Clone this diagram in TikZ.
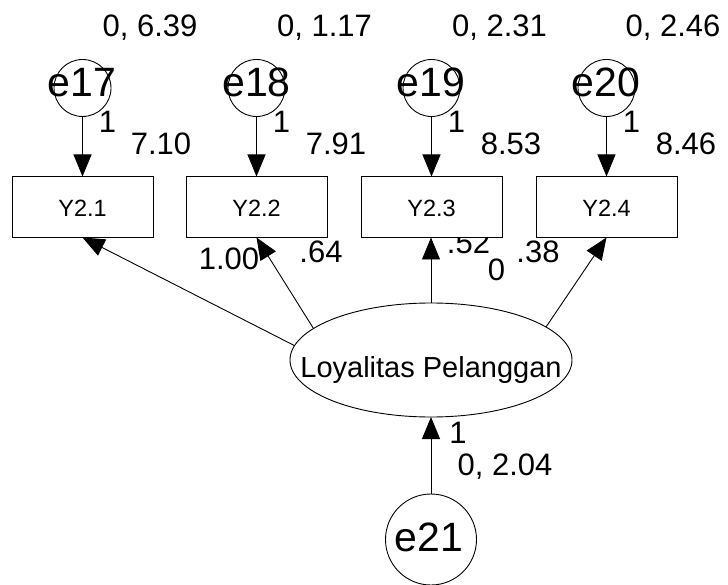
\documentclass[tikz,border=0pt]{standalone}
\usepackage{fontspec}
\setmainfont{Liberation Sans}
\usetikzlibrary{arrows.meta,shapes.geometric}

\begin{document}
\begin{tikzpicture}[x=1pt,y=-1pt,
  every node/.style={inner sep=0pt, outer sep=0pt},
  errc/.style={circle, draw, line width=0.9pt, minimum size=57pt},
  obs/.style={rectangle, draw, fill=white, line width=0.9pt, minimum width=141pt, minimum height=61pt},
  lat/.style={ellipse, draw, line width=0.9pt, minimum width=282pt, minimum height=114pt},
  conn/.style={line width=0.9pt, -{Triangle[length=22pt,width=18pt]}},
  num/.style={anchor=base, font=\fontsize{31}{31}\selectfont},
  errlab/.style={anchor=base, font=\fontsize{41}{41}\selectfont},
  indlab/.style={anchor=base, font=\fontsize{23.5}{23.5}\selectfont},
  latlab/.style={anchor=base, font=\fontsize{29}{29}\selectfont},
]
\useasboundingbox (0,0) rectangle (728,585);

% error terms of the indicators
\node[errc] (e17) at (82.5,88) {};
\node[errc] (e18) at (256.5,88) {};
\node[errc] (e19) at (431.5,88) {};
\node[errc] (e20) at (606.5,88) {};
\node[errlab] (t17) at (82,97) {e17};
\node[errlab] (t18) at (256.5,97) {e18};
\node[errlab] (t19) at (431,97) {e19};
\node[errlab] (t20) at (606,97) {e20};

% variances of the error terms
\node[num] (v17) at (150,36.5) {0, 6.39};
\node[num] (v18) at (324.5,36.5) {0, 1.17};
\node[num] (v19) at (499.5,36.5) {0, 2.31};
\node[num] (v20) at (673,36.5) {0, 2.46};

% fixed paths and intercepts
\node[num] (f17) at (107.5,133) {1};
\node[num] (f18) at (281.5,133) {1};
\node[num] (f19) at (456.5,133) {1};
\node[num] (f20) at (631.5,133) {1};
\node[num] (i1) at (161,155) {7.10};
\node[num] (i2) at (336,155) {7.91};
\node[num] (i3) at (511,155) {8.53};
\node[num] (i4) at (686,155) {8.46};

% loadings
\node[num] (l1) at (229,270) {1.00};
\node[num] (l2) at (321,263) {.64};
\node[num] (l3) at (468.5,254) {.52};
\node[num] (m0) at (496.5,280) {0};
\node[num] (l4) at (538,263) {.38};

% observed indicators
\node[obs] (y1) at (82.5,207) {};
\node[obs] (y2) at (256.5,207) {};
\node[obs] (y3) at (431.5,207) {};
\node[obs] (y4) at (606.5,207) {};
\node[indlab] (ty1) at (82.5,217) {Y2.1};
\node[indlab] (ty2) at (256.5,217) {Y2.2};
\node[indlab] (ty3) at (431.5,217) {Y2.3};
\node[indlab] (ty4) at (606.5,217) {Y2.4};

% latent variable
\node[lat] (lp) at (431,360) {};
\node[latlab] (tlp) at (431,377) {Loyalitas Pelanggan};

% disturbance of the latent variable
\node[errc, minimum size=91pt] (e21) at (431,539.5) {};
\node[errlab] (t21) at (429,551) {e21};
\node[num] (f21) at (458,443) {1};
\node[num] (v21) at (505,475) {0, 2.04};

% paths
\draw[conn] (e17.south) -- (y1.north);
\draw[conn] (e18.south) -- (y2.north);
\draw[conn] (e19.south) -- (y3.north);
\draw[conn] (e20.south) -- (y4.north);
\draw[conn] (lp.174) -- (y1.south);
\draw[conn] (lp.165) -- (y2.south);
\draw[conn] (lp.north) -- (lp.north |- y3.south);
\draw[conn] (lp.16) -- (y4.south);
\draw[conn] (e21.north) -- (lp.south);
\end{tikzpicture}
\end{document}
